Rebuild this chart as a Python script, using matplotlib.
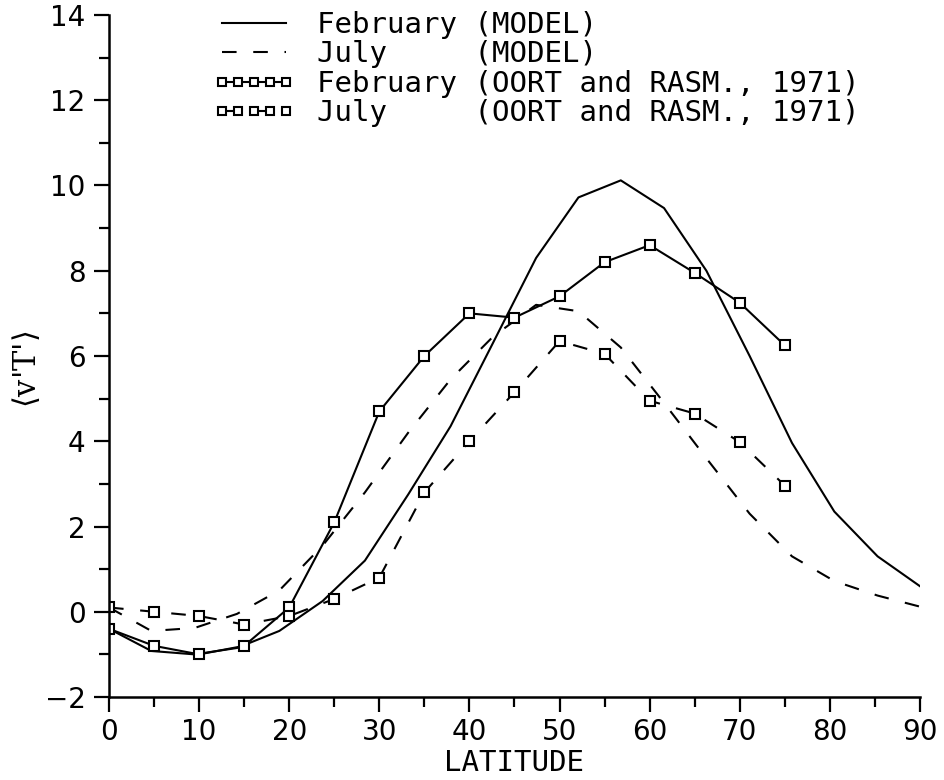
import matplotlib
matplotlib.use("Agg")
import matplotlib.pyplot as plt
from matplotlib.ticker import MultipleLocator

# model latitudes (about 4.7 deg apart) and observed latitudes (every 5 deg)
lat_model = [0, 4.7, 9.5, 14.2, 18.9, 23.7, 28.4, 33.2, 37.9, 42.6,
             47.4, 52.1, 56.8, 61.6, 66.3, 71.1, 75.8, 80.5, 85.3, 90]
feb_model = [-0.4, -0.92, -1.0, -0.85, -0.45, 0.25, 1.2, 2.75, 4.35, 6.3,
             8.3, 9.72, 10.12, 9.47, 8.0, 6.0, 3.96, 2.35, 1.3, 0.6]
jul_model = [0.1, -0.45, -0.38, -0.05, 0.5, 1.55, 2.8, 4.2, 5.45, 6.45,
             7.2, 7.05, 6.2, 4.9, 3.6, 2.3, 1.3, 0.72, 0.38, 0.12]

lat_obs = [0, 5, 10, 15, 20, 25, 30, 35, 40, 45, 50, 55, 60, 65, 70, 75]
feb_obs = [-0.4, -0.8, -1.0, -0.8, 0.1, 2.1, 4.7, 6.0, 7.0, 6.9,
           7.4, 8.2, 8.6, 7.95, 7.25, 6.25]
jul_obs = [0.1, 0.0, -0.1, -0.3, -0.1, 0.3, 0.8, 2.8, 4.0, 5.15,
           6.35, 6.05, 4.95, 4.65, 3.98, 2.96]

labels = ["February (MODEL)",
          "July     (MODEL)",
          "February (OORT and RASM., 1971)",
          "July     (OORT and RASM., 1971)"]

mono = "DejaVu Sans Mono"

fig = plt.figure(figsize=(9.44, 7.8), dpi=100)
ax = fig.add_axes([0.1155, 0.1064, 0.859, 0.8744])

lw = 1.5
ax.plot(lat_model, feb_model, color="black", lw=lw, label=labels[0])
ax.plot(lat_model, jul_model, color="black", lw=lw, dashes=(7, 8), label=labels[1])
ax.plot(lat_obs, feb_obs, color="black", lw=lw, marker="s", ms=7,
        mfc="white", mec="black", mew=1.5, label=labels[2])
ax.plot(lat_obs, jul_obs, color="black", lw=lw, dashes=(7, 8), marker="s", ms=7,
        mfc="white", mec="black", mew=1.5, label=labels[3])

ax.set_xlim(0, 90)
ax.set_ylim(-2, 14)
ax.xaxis.set_major_locator(MultipleLocator(10))
ax.xaxis.set_minor_locator(MultipleLocator(5))
ax.yaxis.set_major_locator(MultipleLocator(2))
ax.yaxis.set_minor_locator(MultipleLocator(1))

for s in ["top", "right"]:
    ax.spines[s].set_visible(False)
for s in ["left", "bottom"]:
    ax.spines[s].set_linewidth(1.8)

ax.tick_params(which="major", direction="out", length=11, width=1.6,
               labelsize=20, pad=4)
ax.tick_params(which="minor", direction="out", length=7, width=1.6)
ax.tick_params(axis="y", which="major", pad=6)

ax.set_xlabel("LATITUDE", fontsize=21, family=mono, labelpad=2)
ax.set_ylabel(r"$\langle$v'T'$\rangle$", fontsize=22, family="DejaVu Serif")
ax.yaxis.set_label_coords(-0.082, 0.48)

leg = ax.legend(loc="upper left", bbox_to_anchor=(213 / 944, 1 - 11 / 780),
                bbox_transform=fig.transFigure, frameon=False,
                prop={"family": mono, "size": 21}, handlelength=2.8,
                handletextpad=0.75, labelspacing=0.05, borderpad=0,
                borderaxespad=0, numpoints=5, markerscale=0.75)

fig.savefig("out.png", dpi=100)
